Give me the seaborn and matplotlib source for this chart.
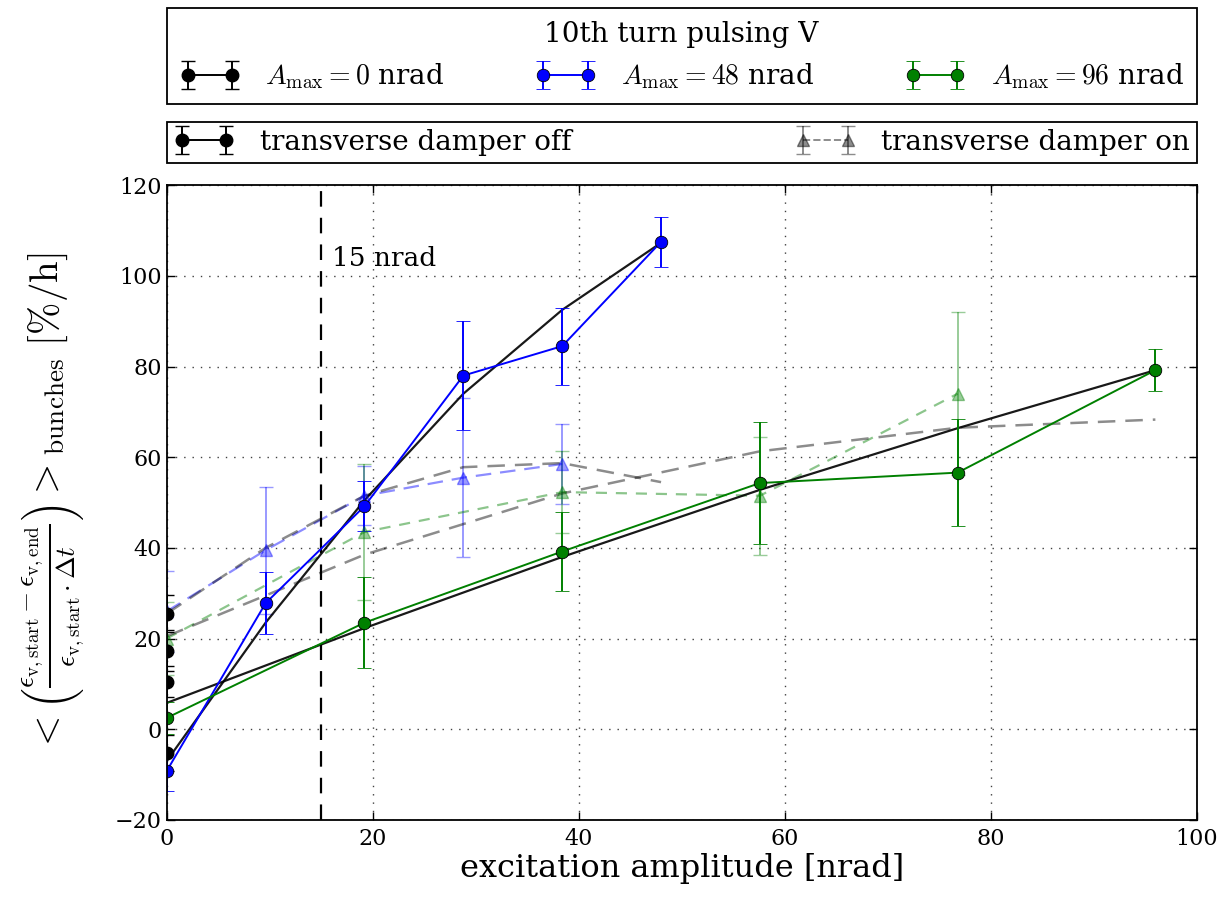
import numpy as np
import matplotlib
matplotlib.use("Agg")
import matplotlib.pyplot as plt
import seaborn as sns

# --- data -------------------------------------------------------------
# reference runs without excitation (A_max = 0 nrad), damper off
x_zero = [0, 0, 0, 0]
y_zero = [25.5, 17.3, 10.5, -5.3]
e_zero = [4.0, 4.5, 3.5, 4.0]

# A_max = 48 nrad, damper off
x_b = [0, 9.6, 19.2, 28.8, 38.4, 48]
y_b = [-9.2, 27.8, 49.2, 78.0, 84.5, 107.5]
e_b = [4.5, 6.8, 5.5, 12.0, 8.5, 5.5]

# A_max = 48 nrad, damper on
x_b_on = [0, 9.6, 19.2, 28.8, 38.4]
y_b_on = [26.0, 39.5, 51.5, 55.5, 58.5]
e_b_on = [9.0, 14.0, 6.5, 17.5, 8.8]

# A_max = 96 nrad, damper off
x_g = [0, 19.2, 38.4, 57.6, 76.8, 96]
y_g = [2.5, 23.5, 39.2, 54.3, 56.6, 79.2]
e_g = [3.5, 10.0, 8.7, 13.4, 11.8, 4.6]

# A_max = 96 nrad, damper on
x_g_on = [0, 19.2, 38.4, 57.6, 76.8]
y_g_on = [20.0, 43.5, 52.3, 51.5, 74.0]
e_g_on = [8.0, 15.0, 9.0, 13.0, 18.0]

# fitted trends, damper off (solid) and damper on (dashed)
fit_b_x = [0, 9.6, 19.2, 28.8, 38.4, 48]
fit_b_y = [-7.0, 23.5, 50.5, 74.0, 92.5, 107.3]
fit_g_x = [0, 19.2, 38.4, 57.6, 76.8, 96]
fit_g_y = [5.8, 22.3, 38.0, 52.8, 66.4, 79.2]
fit_b_on_x = [0, 9.6, 19.2, 28.8, 38.4, 48]
fit_b_on_y = [25.5, 40.0, 51.5, 57.8, 58.7, 54.5]
fit_g_on_x = [0, 19.2, 38.4, 57.6, 76.8, 96]
fit_g_on_y = [20.5, 38.5, 52.0, 61.3, 66.5, 68.3]

threshold = 15
x_ticks = [0, 20, 40, 60, 80, 100]
y_ticks = [-20, 0, 20, 40, 60, 80, 100, 120]

# --- style ------------------------------------------------------------
sns.set_style("white", {
    "axes.edgecolor": "black",
    "axes.labelcolor": "black",
    "text.color": "black",
    "xtick.color": "black",
    "ytick.color": "black",
    "xtick.direction": "in",
    "ytick.direction": "in",
    "xtick.top": True,
    "ytick.right": True,
    "xtick.bottom": True,
    "ytick.left": True,
})
plt.rcParams["font.family"] = ["DejaVu Serif"]
plt.rcParams["mathtext.fontset"] = "cm"
plt.rcParams["axes.linewidth"] = 1.3
plt.rcParams["xtick.major.size"] = 6
plt.rcParams["ytick.major.size"] = 6

fig = plt.figure(figsize=(12.26, 8.99), dpi=100)
ax = fig.add_axes([0.136, 0.088, 0.840, 0.706])

ms = 9
cap = 5
lw = 1.4


def trend(x, y, color, ls, alpha, lwid):
    sns.lineplot(x=x, y=y, ax=ax, color=color, linestyle=ls, alpha=alpha,
                 linewidth=lwid, estimator=None, sort=False, legend=False,
                 errorbar=None)
    return ax.lines[-1]


# damper-on data: light triangles joined by dashed lines
ax.errorbar(x_b_on, y_b_on, yerr=e_b_on, fmt="^", color="b", alpha=0.4,
            ms=ms, capsize=cap, lw=lw, mew=1)
ax.errorbar(x_g_on, y_g_on, yerr=e_g_on, fmt="^", color="g", alpha=0.4,
            ms=ms, capsize=cap, lw=lw, mew=1)
trend(x_b_on, y_b_on, "b", "--", 0.45, 1.6).set_dashes((7, 4))
trend(x_g_on, y_g_on, "g", "--", 0.45, 1.6).set_dashes((5, 4))

# damper-on trend lines
trend(fit_b_on_x, fit_b_on_y, "k", "--", 0.45, 1.8).set_dashes((7, 4))
trend(fit_g_on_x, fit_g_on_y, "k", "--", 0.45, 1.8).set_dashes((7, 4))

# damper-off trend lines
trend(fit_b_x, fit_b_y, "k", "-", 0.9, 1.6)
trend(fit_g_x, fit_g_y, "k", "-", 0.9, 1.6)

# damper-off data
ax.errorbar(x_zero, y_zero, yerr=e_zero, fmt="o", color="k", ms=ms,
            capsize=cap, lw=lw, mec="k")
ax.errorbar(x_b, y_b, yerr=e_b, fmt="o-", color="b", ms=ms, capsize=cap,
            lw=lw, mec="k", mew=0.6)
ax.errorbar(x_g, y_g, yerr=e_g, fmt="o-", color="g", ms=ms, capsize=cap,
            lw=lw, mec="k", mew=0.6)

ax.axvline(threshold, color="k", ls="--", lw=1.6, dashes=(7, 5))
ax.text(threshold + 1.0, 101, "15 nrad", fontsize=19, ha="left", va="bottom")

ax.set_xlim(0, 100)
ax.set_ylim(-20, 120)
ax.set_xticks(x_ticks)
ax.set_yticks(y_ticks)
ax.tick_params(labelsize=16, width=1)
ax.tick_params(axis="x", pad=6)
ax.grid(True, color="k", ls=(0, (1, 5)), lw=1.0, alpha=0.75)

ax.set_xlabel("excitation amplitude [nrad]", fontsize=23, labelpad=2)
ax.set_ylabel(r"$<\left(\frac{\epsilon_{\mathrm{v,start}}-\epsilon_{\mathrm{v,end}}}"
              r"{\epsilon_{\mathrm{v,start}}\cdot\Delta t}\right)>_{\mathrm{bunches}}"
              r"\ [\%/\mathrm{h}]$", fontsize=28, labelpad=20)

# legends above the axes
h0 = ax.errorbar([np.nan], [np.nan], yerr=[1], fmt="o-", color="k", ms=ms,
                 capsize=cap, lw=lw)
h1 = ax.errorbar([np.nan], [np.nan], yerr=[1], fmt="o-", color="b", ms=ms,
                 capsize=cap, lw=lw, mec="k", mew=0.6)
h2 = ax.errorbar([np.nan], [np.nan], yerr=[1], fmt="o-", color="g", ms=ms,
                 capsize=cap, lw=lw, mec="k", mew=0.6)
h_on = ax.errorbar([np.nan], [np.nan], yerr=[1], fmt="^--", color="k",
                   alpha=0.45, ms=ms, capsize=cap, lw=lw)

leg1 = ax.legend([h0, h1, h2],
                 [r"$A_{\mathrm{max}}=0$ nrad", r"$A_{\mathrm{max}}=48$ nrad",
                  r"$A_{\mathrm{max}}=96$ nrad"],
                 title="10th turn pulsing V", ncol=3, mode="expand",
                 loc="lower left", bbox_to_anchor=(0, 1.128, 1, 0.151),
                 borderaxespad=0, fontsize=20, title_fontsize=20,
                 numpoints=2, fancybox=False, framealpha=1, borderpad=0.45,
                 edgecolor="k", handlelength=2.2, handletextpad=0.9)
leg1.get_frame().set_linewidth(1.3)
ax.add_artist(leg1)

leg2 = ax.legend([h0, h_on], ["transverse damper off", "transverse damper on"],
                 ncol=2, mode="expand", loc="lower left",
                 bbox_to_anchor=(0, 1.035, 1, 0.071), borderaxespad=0,
                 fontsize=20, numpoints=2, fancybox=False, framealpha=1,
                 borderpad=0.25, edgecolor="k", handlelength=2.2,
                 handletextpad=0.9)
leg2.get_frame().set_linewidth(1.3)

fig.savefig("out.png", dpi=100)
